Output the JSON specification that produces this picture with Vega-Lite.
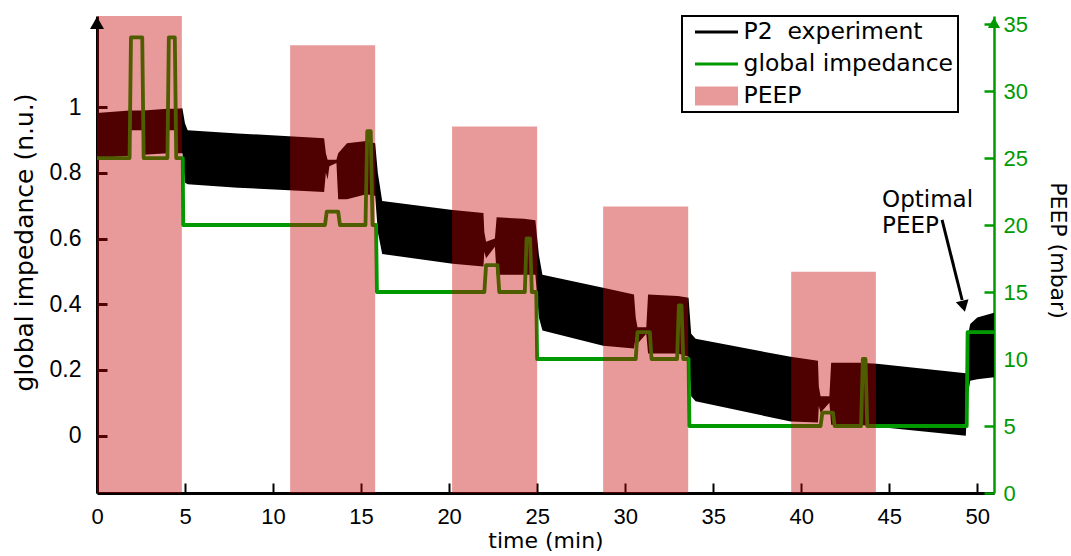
{
  "$schema": "https://vega.github.io/schema/vega-lite/v6.json",
  "width": 897,
  "height": 477,
  "autosize": {"type": "none"},
  "padding": {"left": 97, "top": 16, "right": 77, "bottom": 63},
  "background": "white",
  "config": {
    "view": {"stroke": null},
    "axis": {"grid": false, "labelFont": "Liberation Sans", "titleFont": "DejaVu Sans", "titleFontWeight": "normal", "titleColor": "black", "labelColor": "black"}
  },
  "resolve": {"scale": {"y": "independent"}},
  "layer": [
    {
      "data": {"values": [
        {"t": 0.0, "hi": 0.982, "lo": 0.845},
        {"t": 1.85, "hi": 0.99, "lo": 0.852},
        {"t": 1.95, "hi": 0.99, "lo": 0.93},
        {"t": 2.55, "hi": 0.99, "lo": 0.93},
        {"t": 2.65, "hi": 0.99, "lo": 0.855},
        {"t": 4.0, "hi": 0.995, "lo": 0.86},
        {"t": 4.05, "hi": 0.995, "lo": 0.93},
        {"t": 4.45, "hi": 0.995, "lo": 0.93},
        {"t": 4.5, "hi": 0.995, "lo": 0.86},
        {"t": 4.85, "hi": 0.997, "lo": 0.86},
        {"t": 5.0, "hi": 0.95, "lo": 0.77},
        {"t": 5.15, "hi": 0.93, "lo": 0.765},
        {"t": 8.0, "hi": 0.92, "lo": 0.755},
        {"t": 12.9, "hi": 0.905, "lo": 0.742},
        {"t": 13.0, "hi": 0.86, "lo": 0.8},
        {"t": 13.1, "hi": 0.84, "lo": 0.78},
        {"t": 13.2, "hi": 0.84, "lo": 0.82},
        {"t": 13.6, "hi": 0.84, "lo": 0.83},
        {"t": 13.7, "hi": 0.86, "lo": 0.72},
        {"t": 14.2, "hi": 0.89, "lo": 0.72},
        {"t": 15.3, "hi": 0.897, "lo": 0.735},
        {"t": 15.8, "hi": 0.89, "lo": 0.73},
        {"t": 15.95, "hi": 0.8, "lo": 0.62},
        {"t": 16.2, "hi": 0.714, "lo": 0.553},
        {"t": 20.2, "hi": 0.687, "lo": 0.523},
        {"t": 21.95, "hi": 0.678, "lo": 0.515},
        {"t": 22.0, "hi": 0.62, "lo": 0.56},
        {"t": 22.1, "hi": 0.59, "lo": 0.54},
        {"t": 22.6, "hi": 0.6, "lo": 0.575},
        {"t": 22.7, "hi": 0.665, "lo": 0.49},
        {"t": 24.25, "hi": 0.66, "lo": 0.49},
        {"t": 24.9, "hi": 0.656, "lo": 0.49},
        {"t": 25.1, "hi": 0.55, "lo": 0.36},
        {"t": 25.3, "hi": 0.49, "lo": 0.32},
        {"t": 28.75, "hi": 0.45, "lo": 0.274},
        {"t": 30.5, "hi": 0.43, "lo": 0.265},
        {"t": 30.6, "hi": 0.36, "lo": 0.3},
        {"t": 30.7, "hi": 0.33, "lo": 0.28},
        {"t": 31.2, "hi": 0.33, "lo": 0.31},
        {"t": 31.3, "hi": 0.43, "lo": 0.25},
        {"t": 33.0, "hi": 0.425, "lo": 0.25},
        {"t": 33.6, "hi": 0.42, "lo": 0.24},
        {"t": 33.75, "hi": 0.31, "lo": 0.12},
        {"t": 34.0, "hi": 0.295, "lo": 0.105},
        {"t": 39.4, "hi": 0.24, "lo": 0.043},
        {"t": 40.95, "hi": 0.228, "lo": 0.04},
        {"t": 41.0, "hi": 0.15, "lo": 0.09},
        {"t": 41.1, "hi": 0.12, "lo": 0.07},
        {"t": 41.6, "hi": 0.12, "lo": 0.1},
        {"t": 41.7, "hi": 0.222, "lo": 0.033},
        {"t": 43.3, "hi": 0.222, "lo": 0.033},
        {"t": 44.3, "hi": 0.219, "lo": 0.027},
        {"t": 49.35, "hi": 0.19, "lo": 0.0},
        {"t": 49.45, "hi": 0.3, "lo": 0.12},
        {"t": 49.6, "hi": 0.34, "lo": 0.167},
        {"t": 50.0, "hi": 0.36, "lo": 0.172},
        {"t": 50.95, "hi": 0.374, "lo": 0.178}
      ]},
      "mark": {"type": "area", "interpolate": "linear"},
      "encoding": {
        "x": {"field": "t", "type": "quantitative",
          "scale": {"domain": [0, 50.95], "nice": false, "zero": false},
          "axis": {"values": [0, 5, 10, 15, 20, 25, 30, 35, 40, 45, 50], "tickSize": -10, "tickWidth": 2, "tickColor": "black", "domainColor": "black", "domainWidth": 3, "labelFontSize": 22, "labelPadding": 23, "labelFlush": false, "labelOverlap": false, "title": "time (min)", "titleFontSize": 22, "titlePadding": 3}},
        "y": {"field": "hi", "type": "quantitative",
          "scale": {"domain": [-0.1745, 1.2775], "nice": false, "zero": false},
          "axis": {"orient": "left", "values": [0, 0.2, 0.4, 0.6, 0.8, 1], "format": "~g", "tickSize": -10, "tickWidth": 3, "tickColor": "black", "domainColor": "black", "domainWidth": 3, "labelFontSize": 23, "labelPadding": 26, "title": "global impedance (n.u.)", "titleFontSize": 25, "titleAngle": -90, "titleX": -73, "titleY": 226, "titleAlign": "center", "titleBaseline": "middle"}},
        "y2": {"field": "lo"},
        "color": {"datum": "P2\u00a0 experiment", "type": "nominal",
          "scale": {"domain": ["P2\u00a0 experiment", "global impedance", "PEEP"], "range": ["black", "#009A00", "#E89A9A"]},
          "legend": {"orient": "none", "legendX": 585, "legendY": 0, "title": null,
            "labelFont": "DejaVu Sans", "labelFontSize": 23.5, "labelColor": "black", "labelLimit": 400, "labelOffset": 34,
            "symbolSize": 1850, "clipHeight": 24, "rowPadding": 8, "padding": 4, "strokeColor": "black",
            "encode": {
              "symbols": {"update": {
                "shape": {"signal": "datum.value === 'PEEP' ? 'M-1,-0.44H1V0.44H-1Z' : 'M-1,0H1'"},
                "size": {"value": 1850},
                "x": {"value": 30.5},
                "stroke": {"signal": "datum.value === 'PEEP' ? 'transparent' : (datum.value === 'global impedance' ? '#009A00' : 'black')"},
                "strokeWidth": {"signal": "datum.value === 'PEEP' ? 0 : 3"},
                "opacity": {"value": 1},
                "fillOpacity": {"value": 1},
                "strokeOpacity": {"value": 1}
              }},
              "legend": {"update": {"strokeWidth": {"value": 2}, "stroke": {"value": "black"}}}
            }}}
      }
    },
    {
      "data": {"values": [
        {"t": 0, "p": 25}, {"t": 1.85, "p": 25}, {"t": 1.93, "p": 34}, {"t": 2.57, "p": 34}, {"t": 2.65, "p": 25},
        {"t": 4.0, "p": 25}, {"t": 4.08, "p": 34}, {"t": 4.42, "p": 34}, {"t": 4.5, "p": 25},
        {"t": 4.87, "p": 25}, {"t": 4.9, "p": 20},
        {"t": 12.95, "p": 20}, {"t": 13.05, "p": 21}, {"t": 13.7, "p": 21}, {"t": 13.8, "p": 20},
        {"t": 15.25, "p": 20}, {"t": 15.35, "p": 27}, {"t": 15.55, "p": 27}, {"t": 15.65, "p": 20},
        {"t": 15.85, "p": 20}, {"t": 15.9, "p": 15},
        {"t": 22.0, "p": 15}, {"t": 22.1, "p": 17}, {"t": 22.75, "p": 17}, {"t": 22.85, "p": 15},
        {"t": 24.3, "p": 15}, {"t": 24.4, "p": 19}, {"t": 24.6, "p": 19}, {"t": 24.7, "p": 15},
        {"t": 24.95, "p": 15}, {"t": 25.0, "p": 10},
        {"t": 30.6, "p": 10}, {"t": 30.7, "p": 12}, {"t": 31.4, "p": 12}, {"t": 31.5, "p": 10},
        {"t": 32.95, "p": 10}, {"t": 33.05, "p": 14}, {"t": 33.2, "p": 14}, {"t": 33.3, "p": 10},
        {"t": 33.6, "p": 10}, {"t": 33.65, "p": 5},
        {"t": 41.1, "p": 5}, {"t": 41.2, "p": 6}, {"t": 41.8, "p": 6}, {"t": 41.9, "p": 5},
        {"t": 43.4, "p": 5}, {"t": 43.5, "p": 10}, {"t": 43.65, "p": 10}, {"t": 43.75, "p": 5},
        {"t": 49.4, "p": 5}, {"t": 49.45, "p": 12}, {"t": 50.95, "p": 12}
      ]},
      "mark": {"type": "line", "strokeWidth": 3.8, "strokeJoin": "round"},
      "encoding": {
        "x": {"field": "t", "type": "quantitative"},
        "y": {"field": "p", "type": "quantitative",
          "scale": {"domain": [0, 35.6], "nice": false, "zero": false},
          "axis": {"orient": "right", "values": [0, 5, 10, 15, 20, 25, 30, 35], "tickSize": -10, "tickWidth": 2.5, "tickColor": "#009A00", "domainColor": "#009A00", "domainWidth": 2.5, "labelColor": "#009A00", "labelFontSize": 22, "labelPadding": 19, "title": "PEEP (mbar)", "titleFontSize": 22, "titleAngle": 90, "titleX": 63, "titleY": 234, "titleAlign": "center", "titleBaseline": "middle"}},
        "color": {"datum": "global impedance", "type": "nominal"}
      }
    },
    {
      "data": {"values": [
        {"t0": 0, "t1": 4.82, "top": 35.6},
        {"t0": 10.97, "t1": 15.8, "top": 33.41},
        {"t0": 20.17, "t1": 25.0, "top": 27.35},
        {"t0": 28.75, "t1": 33.58, "top": 21.38},
        {"t0": 39.43, "t1": 44.24, "top": 16.52}
      ]},
      "mark": {"type": "rect", "fill": "#C50000", "opacity": 0.4},
      "encoding": {
        "x": {"field": "t0", "type": "quantitative"},
        "x2": {"field": "t1"},
        "y": {"field": "top", "type": "quantitative", "scale": {"domain": [0, 35.6], "nice": false, "zero": false}, "axis": null},
        "y2": {"datum": 0}
      }
    },
    {
      "data": {"values": [{"t1": 48.0, "v1": 0.657, "t2": 49.14, "v2": 0.413}]},
      "mark": {"type": "rule", "strokeWidth": 3, "color": "black"},
      "encoding": {
        "x": {"field": "t1", "type": "quantitative"},
        "x2": {"field": "t2"},
        "y": {"field": "v1", "type": "quantitative", "scale": {"domain": [-0.1745, 1.2775], "nice": false, "zero": false}, "axis": null},
        "y2": {"field": "v2"}
      }
    },
    {
      "data": {"values": [{"t": 49.22, "v": 0.394}]},
      "mark": {"type": "point", "shape": "triangle-down", "filled": true, "size": 169, "color": "black", "opacity": 1, "angle": 346},
      "encoding": {
        "x": {"field": "t", "type": "quantitative"},
        "y": {"field": "v", "type": "quantitative", "scale": {"domain": [-0.1745, 1.2775], "nice": false, "zero": false}, "axis": null}
      }
    },
    {
      "data": {"values": [{"t": 44.59, "v": 0.6964, "label": "Optimal"}, {"t": 44.59, "v": 0.6172, "label": "PEEP"}]},
      "mark": {"type": "text", "align": "left", "baseline": "alphabetic", "font": "DejaVu Sans", "fontSize": 23, "color": "black"},
      "encoding": {
        "x": {"field": "t", "type": "quantitative"},
        "y": {"field": "v", "type": "quantitative", "scale": {"domain": [-0.1745, 1.2775], "nice": false, "zero": false}, "axis": null},
        "text": {"field": "label"}
      }
    },
    {
      "data": {"values": [{"t": 0, "v": 1.2567}]},
      "mark": {"type": "point", "shape": "triangle-up", "filled": true, "size": 196, "color": "black", "opacity": 1},
      "encoding": {
        "x": {"field": "t", "type": "quantitative"},
        "y": {"field": "v", "type": "quantitative", "scale": {"domain": [-0.1745, 1.2775], "nice": false, "zero": false}, "axis": null}
      }
    },
    {
      "data": {"values": [{"t": 50.95, "p": 35.1}]},
      "mark": {"type": "point", "shape": "triangle-up", "filled": true, "size": 150, "color": "#009A00", "opacity": 1},
      "encoding": {
        "x": {"field": "t", "type": "quantitative"},
        "y": {"field": "p", "type": "quantitative", "scale": {"domain": [0, 35.6], "nice": false, "zero": false}, "axis": null}
      }
    }
  ]
}
